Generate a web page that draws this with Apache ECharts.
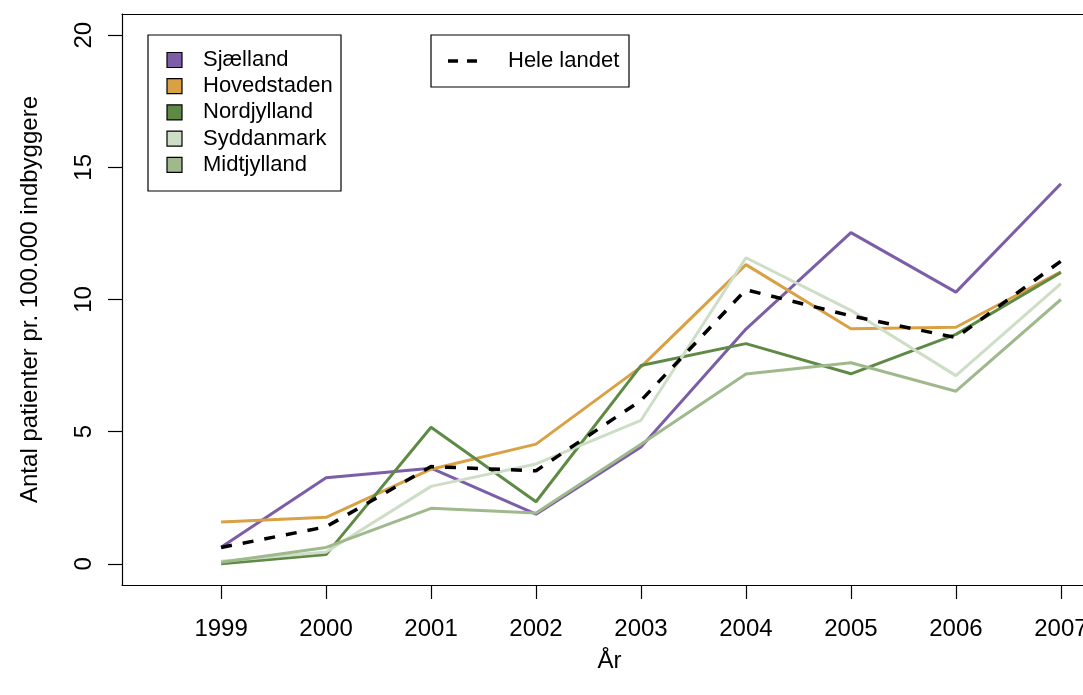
<!DOCTYPE html>
<html><head><meta charset="utf-8">
<script src="https://cdn.jsdelivr.net/npm/echarts@6/dist/echarts.min.js"></script>
<style>html,body{margin:0;padding:0;background:#fff;}#c{width:1083px;height:695px;}</style>
</head><body><div id="c"></div>
<script>
const years = [1999, 2000, 2001, 2002, 2003, 2004, 2005, 2006, 2007];
const yTicks = [0, 5, 10, 15, 20];
const sjaelland   = [0.63, 3.26, 3.62, 1.88, 4.42, 8.88, 12.53, 10.28, 14.38];
const hovedstaden = [1.58, 1.76, 3.58, 4.53, 7.45, 11.32, 8.89, 8.95, 11.05];
const nordjylland = [0.00, 0.35, 5.17, 2.35, 7.50, 8.33, 7.19, 8.68, 11.02];
const syddanmark  = [0.10, 0.45, 2.93, 3.78, 5.43, 11.58, 9.59, 7.12, 10.60];
const midtjylland = [0.06, 0.62, 2.10, 1.92, 4.52, 7.18, 7.61, 6.53, 10.00];
const heleLandet  = [0.62, 1.40, 3.68, 3.52, 6.18, 10.37, 9.38, 8.56, 11.45];

const regionNames = ['Sjælland', 'Hovedstaden', 'Nordjylland', 'Syddanmark', 'Midtjylland'];
const regionData = [sjaelland, hovedstaden, nordjylland, syddanmark, midtjylland];
const regionColors = ['#7B5EA7', '#D9A144', '#5E8A45', '#CEDDC5', '#9FB98D'];
const totalName = 'Hele landet';

const FONT = 'Liberation Sans, Arial, Helvetica, sans-serif';
const pair = arr => years.map((y, i) => [y, arr[i]]);

const series = regionNames.map((n, i) => ({
  name: n, type: 'line', data: pair(regionData[i]), symbol: 'none',
  lineStyle: { color: regionColors[i], width: 3 }, itemStyle: { color: regionColors[i] },
  animation: false, silent: true
}));
series.push({
  name: totalName, type: 'line', data: pair(heleLandet), symbol: 'none',
  lineStyle: { color: '#000', width: 3.5, type: [11, 11] }, itemStyle: { color: '#000' },
  animation: false, silent: true, z: 5
});

// legend graphics (R-style boxes)
const g = [];
g.push({ type: 'rect', shape: { x: 148, y: 35, width: 193, height: 156 },
  style: { fill: '#fff', stroke: '#000', lineWidth: 1.2 }, z: 100 });
regionNames.forEach((n, i) => {
  const cy = 60 + i * 26.2;
  g.push({ type: 'rect', shape: { x: 167, y: cy - 7.5, width: 15, height: 15 },
    style: { fill: regionColors[i], stroke: '#000', lineWidth: 1.2 }, z: 101 });
  g.push({ type: 'text', x: 203, y: cy, style: { text: n, fill: '#000',
    font: '22px ' + FONT, textAlign: 'left', textVerticalAlign: 'middle' }, z: 101 });
});
g.push({ type: 'rect', shape: { x: 431, y: 35, width: 198, height: 52 },
  style: { fill: '#fff', stroke: '#000', lineWidth: 1.2 }, z: 100 });
g.push({ type: 'line', shape: { x1: 448, y1: 61, x2: 486, y2: 61 },
  style: { stroke: '#000', lineWidth: 3.5, lineDash: [10, 9] }, z: 101 });
g.push({ type: 'text', x: 508, y: 61, style: { text: totalName, fill: '#000',
  font: '22px ' + FONT, textAlign: 'left', textVerticalAlign: 'middle' }, z: 101 });

const XMIN = 1998.056, XMAX = 2007.344, GRIDW = 975;

const chart = echarts.init(document.getElementById('c'), null, { renderer: 'canvas' });
chart.setOption({
  backgroundColor: '#fff',
  animation: false,
  grid: { left: 122, top: 14, width: GRIDW, height: 571, show: false, containLabel: false, outerBoundsMode: 'none' },
  xAxis: [{
    type: 'value', min: XMIN, max: XMAX, position: 'bottom',
    name: 'År', nameLocation: 'middle', nameGap: 64,
    nameTextStyle: { fontFamily: FONT, fontSize: 24, color: '#000' },
    axisLine: { show: true, onZero: false, lineStyle: { color: '#000', width: 1.2 } },
    axisTick: { show: true, inside: false, length: 14, customValues: years, lineStyle: { color: '#000', width: 1.2 } },
    axisLabel: { customValues: years, fontFamily: FONT, fontSize: 24, color: '#000', margin: 32, formatter: v => String(v) },
    splitLine: { show: false }
  }, {
    type: 'value', min: XMIN, max: XMAX, position: 'top',
    axisLine: { show: true, onZero: false, lineStyle: { color: '#000', width: 1.2 } },
    axisTick: { show: false }, axisLabel: { show: false }, splitLine: { show: false }
  }],
  yAxis: {
    type: 'value', min: -0.8, max: 20.8,
    name: 'Antal patienter pr. 100.000 indbyggere', nameLocation: 'middle', nameGap: 80, nameRotate: 90,
    nameTextStyle: { fontFamily: FONT, fontSize: 24, color: '#000' },
    axisLine: { show: true, onZero: false, lineStyle: { color: '#000', width: 1.2 } },
    axisTick: { show: true, inside: false, length: 14, customValues: yTicks, lineStyle: { color: '#000', width: 1.2 } },
    axisLabel: { customValues: yTicks, rotate: 90, fontFamily: FONT, fontSize: 24, color: '#000', margin: 26, formatter: v => String(v) },
    splitLine: { show: false }
  },
  graphic: g,
  series: series
});
</script></body></html>
